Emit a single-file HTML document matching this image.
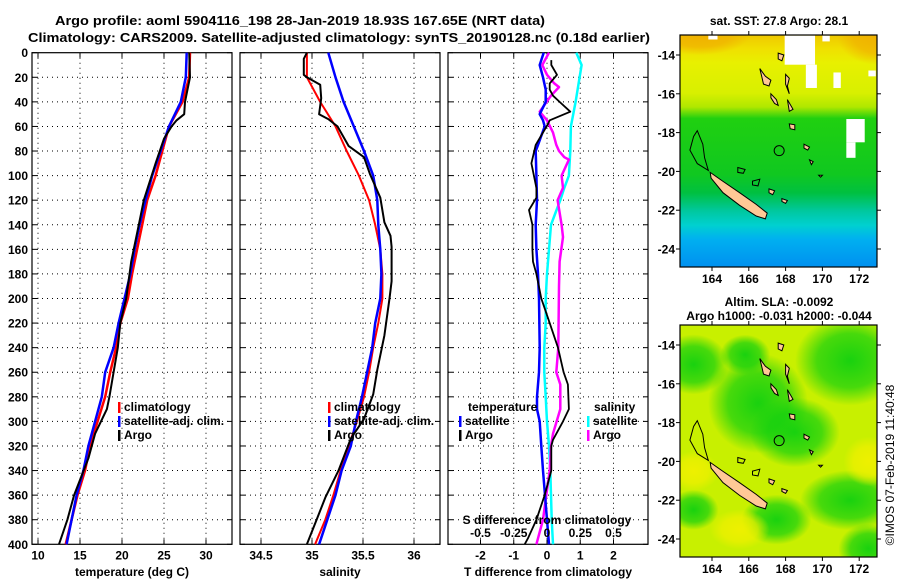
<!DOCTYPE html>
<html><head><meta charset="utf-8"><style>
html,body{margin:0;padding:0;background:#fff;}
svg{display:block;font-family:"Liberation Sans",sans-serif;font-weight:bold;}
</style></head><body>
<svg id="fig" width="900" height="580" viewBox="0 0 900 580" xmlns="http://www.w3.org/2000/svg">
<text x="300" y="25" font-size="13" text-anchor="middle" textLength="490" lengthAdjust="spacingAndGlyphs">Argo profile: aoml 5904116_198 28-Jan-2019 18.93S 167.65E (NRT data)</text>
<text x="339" y="42" font-size="13" text-anchor="middle" textLength="622" lengthAdjust="spacingAndGlyphs">Climatology: CARS2009. Satellite-adjusted climatology: synTS_20190128.nc (0.18d earlier)</text>
<g id="plots"></g>
<g id="maps"></g>
<text transform="translate(894,465) rotate(-90)" font-size="12" font-weight="normal" text-anchor="middle">©IMOS 07-Feb-2019 11:40:48</text>
</svg>
<script>
// ---- data ----
const depthTicks = [0,20,40,60,80,100,120,140,160,180,200,220,240,260,280,300,320,340,360,380,400];
const tTicks = [10,15,20,25,30];
const sTicks = [34.5,35,35.5,36];
const dTTicks = [-2,-1,0,1,2];
const dSTicks = [-0.5,-0.25,0,0.25,0.5];
const dSTickLabels = ['-0.5','-0.25','0','0.25','0.5'];

const tArgoDepth = [0,20,30,40,50,55,60,70,90,120,140,170,200,220,240,260,280,290,310,330,360,380,400];
const tArgo = [28.0,28.1,27.8,27.5,27.4,26.5,25.9,25.0,24.0,22.6,22.0,21.1,20.5,19.8,19.5,19.0,18.5,18.2,16.8,16.0,14.3,13.5,12.5];
const climDepth = [0,20,40,60,80,100,120,140,160,180,200,220,240,260,280,300,320,340,360,380,400];
const tClim = [28.1,28.0,27.2,25.6,24.8,24.0,23.0,22.4,21.8,21.2,20.7,19.8,19.3,18.6,18.0,17.1,16.2,15.6,14.7,14.0,13.3];
const tSat = [27.7,27.6,27.0,25.6,24.6,23.6,22.8,22.1,21.5,21.0,20.3,19.6,19.0,18.0,17.6,16.8,16.0,15.4,14.6,14.0,13.4];

const sArgoDepth = [0,5,18,20,26,37,50,54,60,76,85,99,118,138,149,158,186,200,230,258,278,298,314,340,362,379,400];
const sArgo = [34.95,34.92,34.92,34.95,35.08,35.09,35.07,35.16,35.25,35.36,35.51,35.57,35.67,35.71,35.77,35.78,35.78,35.76,35.71,35.64,35.60,35.51,35.38,35.26,35.13,35.05,34.95];
const sClim = [34.95,34.95,35.08,35.23,35.34,35.46,35.56,35.62,35.67,35.69,35.69,35.65,35.60,35.56,35.51,35.44,35.36,35.28,35.21,35.13,35.03];
const sSat = [35.16,35.23,35.31,35.41,35.51,35.60,35.64,35.65,35.67,35.68,35.67,35.62,35.59,35.54,35.49,35.43,35.38,35.29,35.23,35.15,35.07];

const dTSatDepth = [0,10,20,30,40,50,55,60,75,80,100,120,140,160,180,200,240,260,280,290,300,320,340,360,380,400];
const dTSat = [-0.1,-0.22,-0.12,-0.04,-0.04,-0.22,-0.12,-0.07,-0.27,-0.34,-0.32,-0.3,-0.34,-0.32,-0.27,-0.24,-0.22,-0.24,-0.3,-0.3,-0.22,-0.17,-0.12,-0.06,0.0,0.06];
const dTArgoDepth = [6,10,18,25,30,35,40,48,55,58,75,90,110,118,128,140,160,170,180,200,220,240,260,270,290,300,315,320,340,360,380,395,400];
const dTArgo = [0.13,0.13,0.3,0.08,0.08,0.18,0.38,0.7,0.08,0.03,-0.34,-0.47,-0.32,-0.32,-0.54,-0.44,-0.44,-0.42,-0.32,-0.17,0.08,0.33,0.5,0.63,0.66,0.48,0.18,0.13,0.13,-0.07,-0.32,-0.57,-0.67];
const dSSatDepth = [0,10,20,40,60,80,100,110,120,130,140,160,180,200,220,240,260,280,300,320,340,360,380,400];
const dSSat = [0.22,0.26,0.245,0.215,0.18,0.175,0.165,0.13,0.10,0.065,0.03,0.015,0,-0.01,-0.01,-0.02,-0.02,-0.01,0,0.015,0.025,0.03,0.035,0.045];
const dSArgoDepth = [0,10,18,25,28,35,48,55,65,75,80,85,87,100,110,120,140,150,170,190,240,260,270,290,310,320,340,360,380,400];
const dSArgo = [0.015,-0.035,0.0,0.055,0.09,0.03,-0.055,0,0.045,0.07,0.09,0.13,0.165,0.11,0.12,0.08,0.11,0.12,0.095,0.09,0.085,0.07,0.1,0.1,0.045,0.03,0.02,-0.005,-0.03,-0.08];

const latTicks = [-14,-16,-18,-20,-22,-24];
const lonTicks = [164,166,168,170,172];

// ---- helpers ----
const NS='http://www.w3.org/2000/svg';
function mk(parent,tag,attrs,text){const e=document.createElementNS(NS,tag);for(const k in attrs)e.setAttribute(k,attrs[k]);if(text!==undefined)e.textContent=text;parent.appendChild(e);return e;}
const Y0=52.7, Y1=544.3;
const yD = d => Y0 + d*(Y1-Y0)/400;
function lin(d0,d1,p0,p1){return v=>p0+(v-d0)*(p1-p0)/(d1-d0);}
const plots=document.getElementById('plots');

function panel(name,x0,x1,xs,ticks,labels,xlabel,showY){
  const g=mk(plots,'g',{});
  
  
  depthTicks.forEach(d=>{ if(d>0&&d<400){const l=mk(g,'line',{x1:x0,x2:x1,y1:yD(d),y2:yD(d),stroke:'#000','stroke-width':1,'stroke-dasharray':'1 4'});}
    mk(g,'line',{x1:x0,x2:x0+5,y1:yD(d),y2:yD(d),stroke:'#000'});
    mk(g,'line',{x1:x1-5,x2:x1,y1:yD(d),y2:yD(d),stroke:'#000'});
    if(showY){const t=mk(g,'text',{x:x0-4,y:yD(d)+4.5,'font-size':12,'text-anchor':'end'},String(d));}
  });
  ticks.forEach((v,i)=>{const x=xs(v);
    const l=mk(g,'line',{x1:x,x2:x,y1:Y0,y2:Y1,stroke:'#000','stroke-dasharray':'1 4'});
    
    mk(g,'line',{x1:x,x2:x,y1:Y0,y2:Y0+5,stroke:'#000'});
    mk(g,'line',{x1:x,x2:x,y1:Y1-5,y2:Y1,stroke:'#000'});
    const t=mk(g,'text',{x:x,y:Y1+15,'font-size':12,'text-anchor':'middle'},labels[i]);
    
  });
  const r=mk(g,'rect',{x:x0,y:Y0,width:x1-x0,height:Y1-Y0,fill:'none',stroke:'#000','stroke-width':1.2});
  
  const xl=mk(g,'text',{x:(x0+x1)/2,y:576,'font-size':12,'text-anchor':'middle'},xlabel);
  
  return g;
}
function series(g,name,xs,depths,vals,color,w){
  const pts=vals.map((v,i)=>xs(v).toFixed(1)+','+yD(depths[i]).toFixed(1)).join(' ');
  const p=mk(g,'polyline',{points:pts,fill:'none',stroke:color,'stroke-width':w,'stroke-linejoin':'round'});
  
  
}
function legend(g,x,y,color,label,name){
  mk(g,'rect',{x:x,y:y-9,width:2.5,height:11,fill:color});
  const t=mk(g,'text',{x:x+6,y:y,'font-size':12},label);
  
  
}

const xT=lin(10,30,38,206);
const g1=panel('temperature-panel',32,232,xT,tTicks,tTicks.map(String),'temperature (deg C)',true);
series(g1,'temperature-climatology-line',xT,climDepth,tClim,'#ff0000',2.5);
series(g1,'temperature-satellite-line',xT,climDepth,tSat,'#0000ff',2.5);
series(g1,'temperature-argo-line',xT,tArgoDepth,tArgo,'#000',2);
legend(g1,118,411,'#ff0000','climatology','legend-climatology');
legend(g1,118,425,'#0000ff','satellite-adj. clim.','legend-satellite');
legend(g1,118,439,'#000','Argo','legend-argo');

const xS=lin(34.5,36,261,414);
const g2=panel('salinity-panel',240,440,xS,sTicks,sTicks.map(String),'salinity',false);
series(g2,'salinity-climatology-line',xS,climDepth,sClim,'#ff0000',2);
series(g2,'salinity-satellite-line',xS,climDepth,sSat,'#0000ff',2.5);
series(g2,'salinity-argo-line',xS,sArgoDepth,sArgo,'#000',2);
legend(g2,328,411,'#ff0000','climatology','legend-climatology');
legend(g2,328,425,'#0000ff','satellite-adj. clim.','legend-satellite');
legend(g2,328,439,'#000','Argo','legend-argo');

const xDT=lin(-2,2,480.5,613.5);
const xDS=lin(-0.5,0.5,480.5,613.5);
const g3=panel('difference-panel',448,648,xDT,dTTicks,dTTicks.map(String),'T difference from climatology',false);
series(g3,'salinity-diff-satellite-line',xDS,dSSatDepth,dSSat,'#00ffff',2.5);
series(g3,'salinity-diff-argo-line',xDS,dSArgoDepth,dSArgo,'#ff00ff',2.5);
series(g3,'temperature-diff-satellite-line',xDT,dTSatDepth,dTSat,'#0000ff',2.5);
series(g3,'temperature-diff-argo-line',xDT,dTArgoDepth,dTArgo,'#000',1.8);
dSTicks.forEach((v,i)=>{const t=mk(g3,'text',{x:xDS(v),y:537,'font-size':12,'text-anchor':'middle'},dSTickLabels[i]);});
{const t=mk(g3,'text',{x:547,y:524,'font-size':12,'text-anchor':'middle'},'S difference from climatology');}
{const t=mk(g3,'text',{x:468,y:411,'font-size':12},'temperature');}
{const t=mk(g3,'text',{x:594,y:411,'font-size':12},'salinity');}
legend(g3,459,425,'#0000ff','satellite','legend-temp-satellite');
legend(g3,459,439,'#000','Argo','legend-temp-argo');
legend(g3,587,425,'#00ffff','satellite','legend-sal-satellite');
legend(g3,587,439,'#ff00ff','Argo','legend-sal-argo');

// ---- maps ----
const maps=document.getElementById('maps');
const mxL=680, mxR=877;
const mx = lon => 712 + (lon-164)*18.4;
const islandsFilled = [
 [[163.9,-20.05],[164.5,-20.45],[165.5,-21.1],[166.4,-21.7],[167.0,-22.15],[166.9,-22.45],[166.4,-22.3],[165.5,-21.75],[164.6,-21.1],[163.95,-20.35]],
 [[166.6,-14.7],[166.9,-15.1],[167.2,-15.3],[167.1,-15.6],[166.8,-15.5],[166.7,-15.1]],
 [[167.2,-16.0],[167.5,-16.3],[167.6,-16.6],[167.4,-16.5],[167.2,-16.2]],
 [[168.2,-17.55],[168.5,-17.6],[168.5,-17.85],[168.25,-17.8]],
 [[169.0,-18.6],[169.3,-18.75],[169.2,-18.9],[169.0,-18.8]],
 [[169.3,-19.4],[169.5,-19.5],[169.4,-19.65]],
 [[167.1,-20.9],[167.4,-21.0],[167.3,-21.2],[167.1,-21.1]],
 [[167.8,-21.4],[168.1,-21.5],[168.0,-21.65],[167.8,-21.55]],
 [[167.6,-13.9],[167.9,-14.0],[167.8,-14.3],[167.6,-14.2]],
 [[168.0,-15.0],[168.2,-15.2],[168.1,-15.6],[168.2,-16.0],[168.0,-15.5]],
 [[168.1,-16.3],[168.4,-16.8],[168.2,-16.9]],
 [[169.8,-20.2],[170.0,-20.2],[169.9,-20.3]]
];
const reefOutlines = [
 [[163.2,-17.9],[163.0,-18.2],[162.8,-18.9],[163.2,-19.6],[163.8,-19.95],[163.6,-19.3],[163.5,-18.6]],
 [[165.4,-19.8],[165.8,-19.9],[165.7,-20.1],[165.4,-20.05]],
 [[166.2,-20.5],[166.6,-20.4],[166.5,-20.75],[166.2,-20.7]]
];
function drawMap(name,top,title1,title2,fillFn){
  const my = lat => top+20 + (-14-lat)*19.4;
  const bottom = top+232;
  const g=mk(maps,'g',{});
  
  
  const cid='clip'+top;
  const cp=mk(g,'clipPath',{id:cid});mk(cp,'rect',{x:mxL,y:top,width:mxR-mxL,height:bottom-top});
  const inner=mk(g,'g',{'clip-path':'url(#'+cid+')'});
  fillFn(inner,top,bottom,my);
  islandsFilled.forEach(poly=>{const p=mk(inner,'polygon',{points:poly.map(q=>mx(q[0]).toFixed(1)+','+my(q[1]).toFixed(1)).join(' '),fill:'#ffc896',stroke:'#000','stroke-width':1});});
  reefOutlines.forEach(poly=>{const p=mk(inner,'polygon',{points:poly.map(q=>mx(q[0]).toFixed(1)+','+my(q[1]).toFixed(1)).join(' '),fill:'none',stroke:'#000','stroke-width':1});});
  const c=mk(inner,'circle',{cx:mx(167.65),cy:my(-18.93),r:5,fill:'none',stroke:'#000','stroke-width':1});
  
  const fr=mk(g,'rect',{x:mxL,y:top,width:mxR-mxL,height:bottom-top,fill:'none',stroke:'#000','stroke-width':1.2});
  
  latTicks.forEach(l=>{const y=my(l);mk(g,'line',{x1:mxL-4,x2:mxL,y1:y,y2:y,stroke:'#000'});mk(g,'line',{x1:mxR,x2:mxR+4,y1:y,y2:y,stroke:'#000'});
    const t=mk(g,'text',{x:mxL-5,y:y+4.5,'font-size':12,'text-anchor':'end'},String(l));});
  lonTicks.forEach(l=>{const x=mx(l);mk(g,'line',{x1:x,x2:x,y1:top-4,y2:top,stroke:'#000'});mk(g,'line',{x1:x,x2:x,y1:bottom,y2:bottom+4,stroke:'#000'});
    const t=mk(g,'text',{x:x,y:bottom+16,'font-size':12,'text-anchor':'middle'},String(l));});
  const t1=mk(g,'text',{x:779,y:title2?top-19:top-10,'font-size':12,'text-anchor':'middle'},title1);
  
  if(title2){const t2=mk(g,'text',{x:779,y:top-5,'font-size':12,'text-anchor':'middle'},title2);}
}
const defs=mk(document.getElementById('fig'),'defs',{});
function grad(id,stops,vertical){const lg=mk(defs,'linearGradient',{id:id,x1:0,y1:0,x2:vertical?0:1,y2:vertical?1:0});stops.forEach(s=>mk(lg,'stop',{offset:s[0],'stop-color':s[1]}));}
grad('sstGrad',[[0,'#f0c800'],[0.06,'#f0e000'],[0.12,'#e8f000'],[0.25,'#d8f000'],[0.31,'#b0e800'],[0.36,'#20d010'],[0.6,'#10c820'],[0.68,'#00c040'],[0.76,'#00c8a0'],[0.82,'#00d0d0'],[0.88,'#00b0f0'],[1,'#0090f0']],true);
function rg(id,c){const r=mk(defs,'radialGradient',{id:id});mk(r,'stop',{offset:0,'stop-color':c,'stop-opacity':0.95});mk(r,'stop',{offset:0.6,'stop-color':c,'stop-opacity':0.7});mk(r,'stop',{offset:1,'stop-color':c,'stop-opacity':0});}
rg('gBlob','#10d010');rg('yBlob','#f0f000');rg('oBlob','#f0b000');

drawMap('sst-map',35,'sat. SST: 27.8 Argo: 28.1',null,(g,top,bottom,my)=>{
  mk(g,'rect',{x:mxL,y:top,width:mxR-mxL,height:bottom-top,fill:'url(#sstGrad)'});
  mk(g,'ellipse',{cx:mxR,cy:top,rx:40,ry:30,fill:'url(#oBlob)'});
  mk(g,'ellipse',{cx:mxL+20,cy:top,rx:50,ry:20,fill:'url(#oBlob)'});
  [[167.95,-13,1.65,1.5],[169.1,-14.5,0.6,1.2],[171.3,-17.3,1.0,1.2],[171.3,-18.5,0.5,0.8],[172.5,-14.8,0.4,0.3],[170.0,-13.0,0.4,0.3],[170.6,-14.9,0.4,0.8],[163.8,-13.0,0.5,0.2]].forEach(w=>{
    const r=mk(g,'rect',{x:mx(w[0]),y:my(w[1]),width:w[2]*18.4,height:w[3]*19.4,fill:'#fff'});
    });
});
drawMap('sla-map',325,'Altim. SLA: -0.0092','Argo h1000: -0.031 h2000: -0.044',(g,top,bottom,my)=>{
  mk(g,'rect',{x:mxL,y:top,width:mxR-mxL,height:bottom-top,fill:'#c8f000'});
  [[171.5,-14.8,55,45],[166.5,-17.0,50,50],[168.5,-18.5,45,35],[171.5,-22.0,50,30],[163.0,-15.0,35,30],[163.0,-22.5,25,20],[167.5,-23.0,35,25],[172.5,-24.5,30,25],[165.8,-14.5,25,20]].forEach(b=>{
    mk(g,'ellipse',{cx:mx(b[0]),cy:my(b[1]),rx:b[2],ry:b[3],fill:'url(#gBlob)'});});
  [[165.5,-23.5,30,20],[172.5,-20,25,25],[163.0,-20.5,25,20]].forEach(b=>{
    mk(g,'ellipse',{cx:mx(b[0]),cy:my(b[1]),rx:b[2],ry:b[3],fill:'url(#yBlob)'});});
});
</script>
</body></html>
